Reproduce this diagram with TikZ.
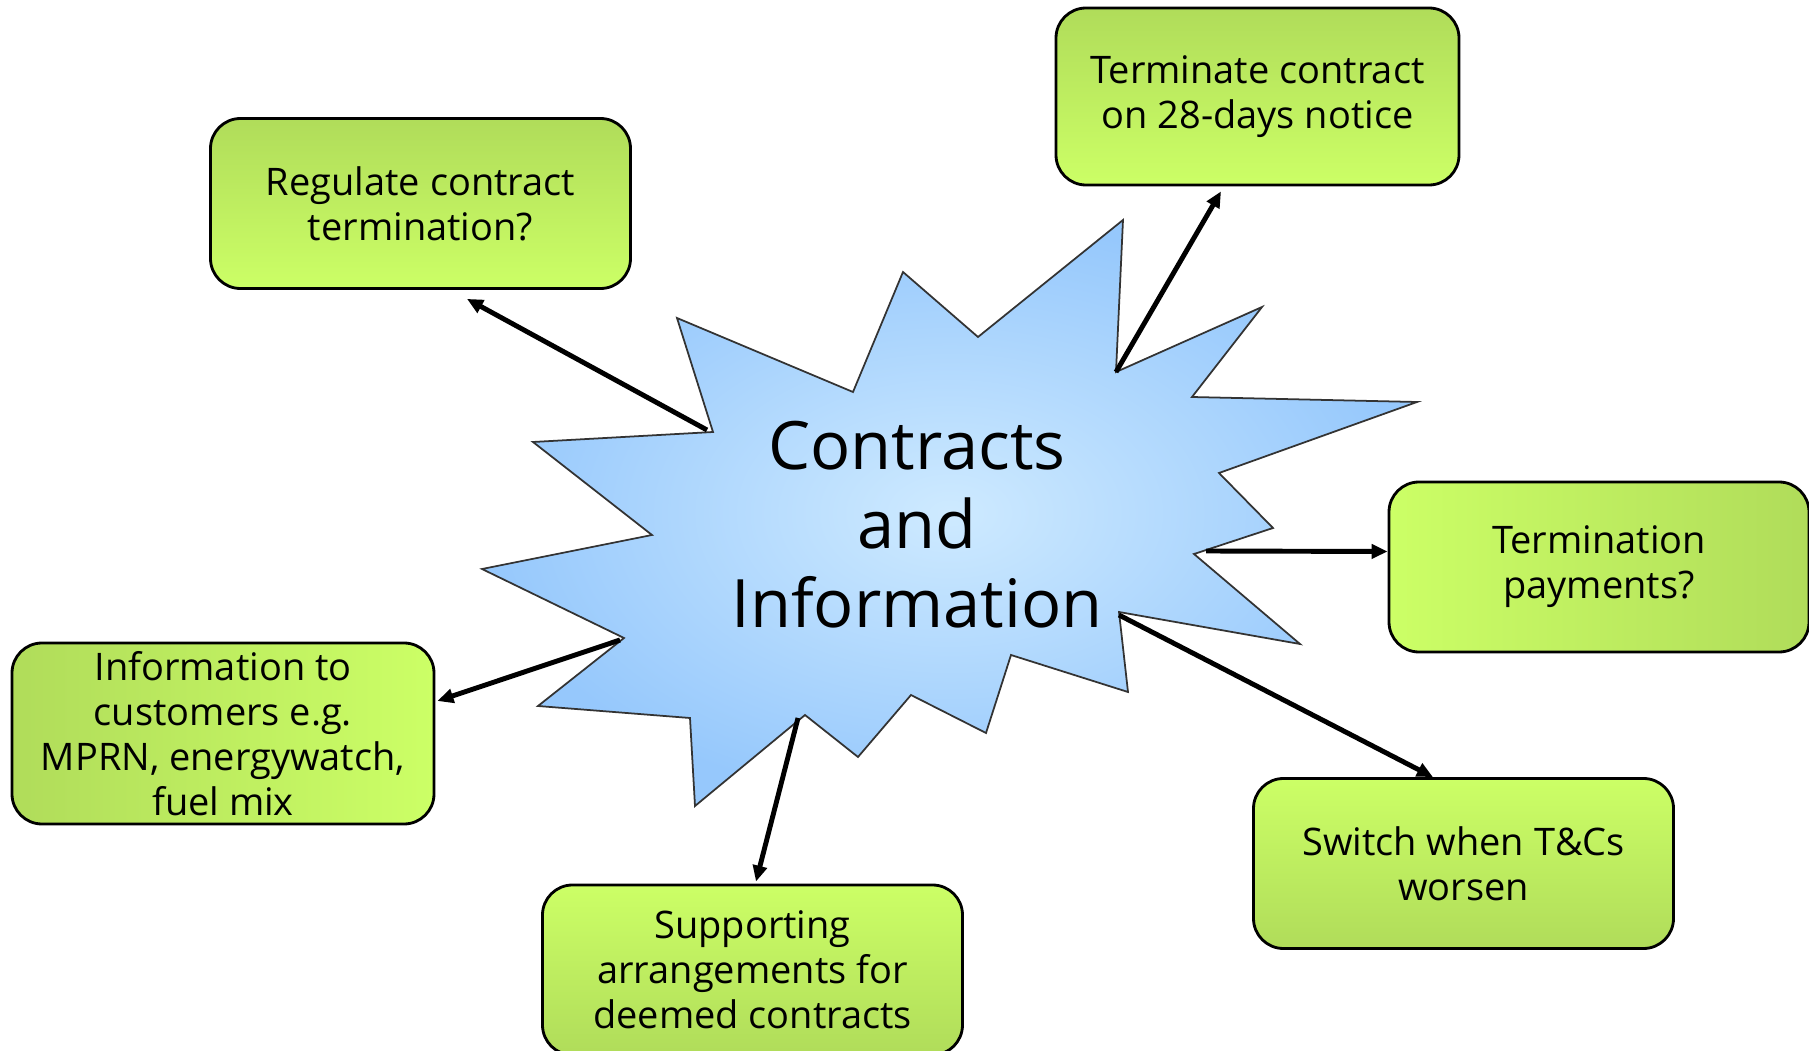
\documentclass[tikz,border=0pt]{standalone}
\usepackage{fontspec}
\setmainfont{Open Sans}
\usetikzlibrary{arrows.meta}
\definecolor{vertclair}{RGB}{204,255,102}
\definecolor{vertfonce}{RGB}{176,220,90}
\definecolor{bleuclair}{RGB}{206,234,255}
\definecolor{bleufonce}{RGB}{150,200,252}
\tikzset{
  bloc/.style={draw, line width=0.8pt, rounded corners=0.3cm, align=center,
    minimum width=4.2cm, minimum height=1.7cm, inner sep=0pt,
    font=\fontsize{10.8}{12.8}\selectfont},
  fleche/.style={line width=1.4pt, -{Triangle[length=1.6mm,width=1.4mm]}}
}
\begin{document}
\begin{tikzpicture}
	\useasboundingbox (0,0) rectangle (18.09,-10.51);
	\clip (0,0) rectangle (18.09,-10.51);

	% l'etoile
	\shadedraw[inner color=bleuclair, outer color=bleufonce, draw=black!80, line width=0.5pt]
	  (11.23,-2.20) coordinate (s1) -- (11.16,-3.72) coordinate (s2) -- (12.62,-3.07) -- (11.92,-3.97)
	  -- (14.17,-4.02) -- (12.19,-4.73) -- (12.73,-5.28) -- (11.94,-5.54) coordinate (s8)
	  -- (13.00,-6.44) -- (11.19,-6.12) coordinate (s10) -- (11.28,-6.92) -- (10.11,-6.55)
	  -- (9.86,-7.33) -- (9.11,-6.95) -- (8.58,-7.57) -- (8.05,-7.15) coordinate (s16)
	  -- (6.95,-8.06) -- (6.90,-7.18) -- (5.38,-7.06) -- (6.24,-6.38) coordinate (s20)
	  -- (4.82,-5.69) -- (6.52,-5.35) -- (5.33,-4.42) -- (7.13,-4.32) coordinate (s24)
	  -- (6.77,-3.18) -- (8.53,-3.92) -- (9.03,-2.72) -- (9.78,-3.37) -- cycle;
	\node[align=center, font=\fontsize{19}{22.5}\selectfont] (centre) at (9.17,-5.25) {Contracts\\and\\Information};

	% les boites
	\node[bloc, top color=vertfonce, bottom color=vertclair] (regul) at (4.205,-2.035) {Regulate contract\\termination?};
	\node[bloc, top color=vertfonce, bottom color=vertclair, minimum width=4.03cm, minimum height=1.77cm] (resil) at (12.575,-0.965) {Terminate contract\\on 28-days notice};
	\node[bloc, left color=vertclair, right color=vertfonce] (paie) at (15.99,-5.67) {Termination\\payments?};
	\node[bloc, left color=vertfonce, right color=vertclair, minimum width=4.22cm, minimum height=1.81cm] (info) at (2.23,-7.335) {Information to\\customers e.g.\\MPRN, energywatch,\\fuel mix};
	\node[bloc, top color=vertclair, bottom color=vertfonce] (chgt) at (14.635,-8.635) {Switch when T\&Cs\\worsen};
	\node[bloc, top color=vertclair, bottom color=vertfonce] (supp) at (7.525,-9.70) {Supporting\\arrangements for\\deemed contracts};

	% les fleches
	\draw[fleche] ([xshift=-0.6mm,yshift=0.2mm]s24) -- ([xshift=4.65mm,yshift=-0.9mm]regul.south);
	\draw[fleche] (s2) -- ([xshift=-3.65mm,yshift=-0.5mm]resil.south);
	\draw[fleche] ([xshift=1.2mm,yshift=0.3mm]s8) -- ([yshift=1.55mm]paie.west);
	\draw[fleche] ([yshift=-0.3mm]s10) -- ([xshift=-3.05mm]chgt.north);
	\draw[fleche] ([xshift=-0.7mm,yshift=-0.3mm]s16) -- ([xshift=0.35mm,yshift=0.2mm]supp.north);
	\draw[fleche] ([xshift=-0.4mm,yshift=-0.2mm]s20) -- ([xshift=0.2mm,yshift=3.25mm]info.east);
\end{tikzpicture}
\end{document}
